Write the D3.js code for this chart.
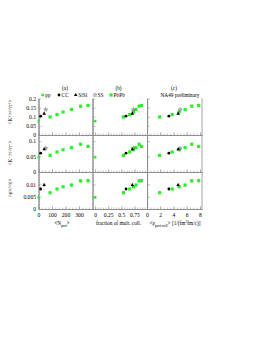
<!DOCTYPE html>
<html><head><meta charset="utf-8">
<script src="https://cdn.jsdelivr.net/npm/d3@7"></script>
<style>body{margin:0;background:#fff}svg{display:block}text{font-family:"Liberation Serif","DejaVu Serif",serif;fill:#000}</style>
</head><body><svg id="c" width="262" height="339"></svg>
<script>
// ---- data ----
const systems = ["pp","CC","SiSi","SS","PbPb"];
const nPartPP=[2], nPartCC=[16], nPartSiSi=[42], nPartSS=[54], nPartPbPb=[86,137,182,244,312,367];
const fracPP=[0], fracCC=[0.59], fracSiSi=[0.71], fracSS=[0.73], fracPbPb=[0.54,0.66,0.73,0.78,0.84,0.885];
const rhoPP=[null], rhoCC=[3.3], rhoSiSi=[4.7], rhoSS=[5.0], rhoPbPb=[1.9,3.8,4.85,5.75,6.75,7.8];
const kpPP=[0.076], kpCC=[0.103], kpSiSi=[0.117], kpSS=[0.139], kpPbPb=[0.099,0.112,0.126,0.140,0.158,0.162];
const kmPP=[0.048], kmCC=[0.061], kmSiSi=[0.074], kmSS=[0.077], kmPbPb=[0.054,0.065,0.072,0.079,0.090,0.083];
const phiPP=[0.0047], phiCC=[0.0081], phiSiSi=[0.0097], phiSS=[null], phiPbPb=[0.0066,0.0081,0.0090,0.0097,0.0114,0.0115];
const kpErrPP=[0.003], kpErrCC=[0.005], kpErrSiSi=[0.006], kpErrSS=[0.004], kpErrPbPb=[0.003,0.003,0.004,0.005,0.006,0.008];
const kmErrPP=[0.002], kmErrCC=[0.003], kmErrSiSi=[0.004], kmErrSS=[0.003], kmErrPbPb=[0.002,0.002,0.003,0.003,0.004,0.005];
const phiErrPP=[0.0004], phiErrCC=[0.0006], phiErrSiSi=[0.0008], phiErrSS=[null], phiErrPbPb=[0.0004,0.0004,0.0005,0.0006,0.0007,0.0008];
const yTicksTop=[0,0.05,0.1,0.15,0.2], yTicksMid=[0,0.05,0.1], yTicksBot=[0,0.005,0.01];
const xTicksA=[0,100,200,300], xTicksB=[0,0.25,0.5,0.75], xTicksC=[0,2,4,6,8];
const yTitles=["<K\u207A>/<\u03C0\u207A>","<K\u207B>/<\u03C0\u207B>","<\u03C6>/<\u03C0>"];

// ---- layout ----
const svg=d3.select("#c");
const cols=[[38.5,92.5],[92.5,147],[147,202]];
const rows=[[98.5,135],[135,172],[172,209]];
const xs=[
  d3.scaleLinear().domain([0,400]).range(cols[0]),
  d3.scaleLinear().domain([-0.05,0.99]).range(cols[1]),
  d3.scaleLinear().domain([0,8.3]).range(cols[2])
];
const ys=[
  d3.scaleLinear().domain([0,0.2]).range([rows[0][1],rows[0][0]]),
  d3.scaleLinear().domain([0,0.12]).range([rows[1][1],rows[1][0]]),
  d3.scaleLinear().domain([0,0.015]).range([rows[2][1],rows[2][0]])
];
const yTicks=[yTicksTop,yTicksMid,yTicksBot];
const yMinor=[d3.range(0,0.2001,0.01),d3.range(0,0.1201,0.01),d3.range(0,0.01501,0.001)];
const xTicks=[xTicksA,xTicksB,xTicksC];
const xMinor=[d3.range(0,401,25),d3.range(0,0.99,0.05),d3.range(0,8.3,0.5)];
const green="#2bf02b", lineC="#8a8a8a";
const fmt=v=>v===0?"0":d3.format("~g")(v);

// frames & axes
for(let r=0;r<3;r++){
  for(let c=0;c<3;c++){
    const g=svg.append("g");
    const ay=d3.axisLeft(ys[r]).tickValues(yTicks[r]).tickSizeInner(-3).tickSizeOuter(0).tickFormat(c===0?fmt:"");
    const gy=g.append("g").attr("transform",`translate(${cols[c][0]},0)`).call(ay);
    const aym=d3.axisLeft(ys[r]).tickValues(yMinor[r]).tickSizeInner(-1.5).tickSizeOuter(0).tickFormat("");
    const gym=g.append("g").attr("transform",`translate(${cols[c][0]},0)`).call(aym);
    const ax=d3.axisBottom(xs[c]).tickValues(xTicks[c]).tickSizeInner(-3).tickSizeOuter(0).tickFormat(r===2?fmt:"");
    const gx=g.append("g").attr("transform",`translate(0,${rows[r][1]})`).call(ax);
    const axm=d3.axisBottom(xs[c]).tickValues(xMinor[c]).tickSizeInner(-1.5).tickSizeOuter(0).tickFormat("");
    const gxm=g.append("g").attr("transform",`translate(0,${rows[r][1]})`).call(axm);
    [gy,gym,gx,gxm].forEach(s=>{
      s.selectAll("path.domain").attr("stroke",lineC).attr("stroke-width",0.8);
      s.selectAll("line").attr("stroke",lineC).attr("stroke-width",0.5);
      s.selectAll("text").attr("font-size",5.6).attr("font-family","Liberation Serif").attr("fill","#000");
    });
    gy.selectAll("text").attr("x",-2.5);
    gx.selectAll("text").attr("y",4);
  }
}
svg.append("line").attr("x1",cols[2][1]).attr("x2",cols[2][1]).attr("y1",rows[0][0]).attr("y2",rows[2][1]).attr("stroke",lineC).attr("stroke-width",0.8);

// y titles
const yTitleY=[112,153,188];
yTitles.forEach((t,i)=>{
  svg.append("text").attr("transform",`translate(12,${yTitleY[i]}) rotate(-90)`).attr("text-anchor","middle").attr("font-size",5.2).text(t);
});
// x titles
svg.append("text").attr("x",62).attr("y",225).attr("text-anchor","middle").attr("font-size",5.3)
  .html('&lt;N<tspan font-size="3.8" dy="1.5">part</tspan><tspan dy="-1.5">&gt;</tspan>');
svg.append("text").attr("x",118.5).attr("y",225).attr("text-anchor","middle").attr("font-size",5.3).text("fraction of mult. coll.");
svg.append("text").attr("x",175).attr("y",225).attr("text-anchor","middle").attr("font-size",5.3)
  .html('&lt;\u03C1<tspan font-size="3.8" dy="1.5">part coll</tspan><tspan dy="-1.5">&gt; [1/(fm</tspan><tspan font-size="3.8" dy="-2">3</tspan><tspan dy="2">fm/c)]</tspan>');
// panel labels
[["(a)",65],["(b)",118.5],["(c)",174]].forEach(([t,x])=>svg.append("text").attr("x",x).attr("y",90).attr("text-anchor","middle").attr("font-size",5.3).text(t));
svg.append("text").attr("x",180).attr("y",97).attr("text-anchor","middle").attr("font-size",5.3).text("NA49 preliminary");

// markers
function marker(g,sys,x,y){
  if(sys==="pp") g.append("rect").attr("x",x-1.3).attr("y",y-1.3).attr("width",2.6).attr("height",2.6).attr("fill",green);
  else if(sys==="PbPb") g.append("rect").attr("x",x-1.6).attr("y",y-1.6).attr("width",3.2).attr("height",3.2).attr("fill",green);
  else if(sys==="CC") g.append("circle").attr("cx",x).attr("cy",y).attr("r",1.4).attr("fill","#000");
  else if(sys==="SiSi") g.append("path").attr("d",d3.symbol(d3.symbolTriangle,5.5)()).attr("transform",`translate(${x},${y})`).attr("fill","#000");
  else if(sys==="SS") g.append("path").attr("d",d3.symbol(d3.symbolStar,5)()).attr("transform",`translate(${x},${y})`).attr("fill","none").attr("stroke","#555").attr("stroke-width",0.45);
}
// legend
const legX=[42.7,59,75.7,95,111];
systems.forEach((s,i)=>{
  marker(svg,s,legX[i],95);
  svg.append("text").attr("x",legX[i]+2.6).attr("y",97).attr("font-size",5.3).text(s);
});

const xData={pp:[nPartPP,fracPP,rhoPP],CC:[nPartCC,fracCC,rhoCC],SiSi:[nPartSiSi,fracSiSi,rhoSiSi],SS:[nPartSS,fracSS,rhoSS],PbPb:[nPartPbPb,fracPbPb,rhoPbPb]};
const yData={pp:[kpPP,kmPP,phiPP],CC:[kpCC,kmCC,phiCC],SiSi:[kpSiSi,kmSiSi,phiSiSi],SS:[kpSS,kmSS,phiSS],PbPb:[kpPbPb,kmPbPb,phiPbPb]};
const eData={pp:[kpErrPP,kmErrPP,phiErrPP],CC:[kpErrCC,kmErrCC,phiErrCC],SiSi:[kpErrSiSi,kmErrSiSi,phiErrSiSi],SS:[kpErrSS,kmErrSS,phiErrSS],PbPb:[kpErrPbPb,kmErrPbPb,phiErrPbPb]};
const order=["PbPb","pp","SS","CC","SiSi"];
const pg=svg.append("g");
for(let r=0;r<3;r++)for(let c=0;c<3;c++){
  order.forEach(s=>{
    const xv=xData[s][c], yv=yData[s][r], ev=eData[s][r];
    xv.forEach((xx,i)=>{
      if(xx==null||yv[i]==null)return;
      const X=xs[c](xx), Y=ys[r](yv[i]);
      if(ev[i]) pg.append("line").attr("x1",X).attr("x2",X).attr("y1",ys[r](yv[i]-ev[i])).attr("y2",ys[r](yv[i]+ev[i])).attr("stroke","#666").attr("stroke-width",0.5);
      marker(pg,s,X,Y);
    });
  });
}
</script></body></html>
